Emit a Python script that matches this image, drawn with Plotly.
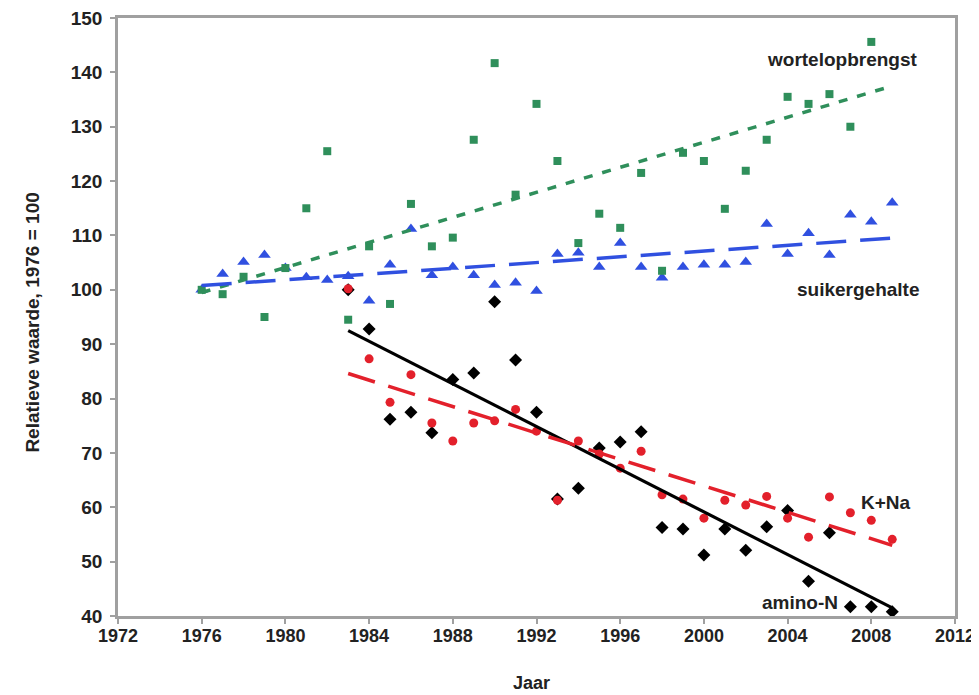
import plotly.graph_objects as go

# ---- data ----
years_wortel = list(range(1976, 2009))
wortelopbrengst = [100, 99.2, 102.4, 95, 104, 115, 125.5, 94.5, 108, 97.4, 115.8, 108, 109.6,
                   127.6, 141.7, 117.5, 134.2, 123.7, 108.6, 114, 111.4, 121.5, 103.5, 125.2,
                   123.7, 114.9, 121.9, 127.6, 135.5, 134.2, 136, 130, 145.6]

years_suiker = list(range(1976, 2010))
suikergehalte = [100, 102.9, 105.1, 106.4, 104, 102.3, 101.8, 102.5, 98, 104.6, 111.2, 102.7,
                 104.2, 102.7, 100.9, 101.3, 99.8, 106.6, 106.8, 104.2, 108.6, 104.2, 102.2,
                 104.2, 104.6, 104.6, 105.1, 112.1, 106.6, 110.4, 106.4, 113.8, 112.5, 116]

years_kna = list(range(1983, 2010))
k_na = [100.2, 87.3, 79.3, 84.4, 75.5, 72.2, 75.5, 75.9, 78, 74, 61.3, 72.2, 69.8, 67.2,
        70.3, 62.3, 61.5, 58, 61.3, 60.4, 62, 58, 54.5, 61.9, 59, 57.6, 54.1]

years_amino = list(range(1983, 2010))
amino_n = [100, 92.8, 76.2, 77.5, 73.7, 83.5, 84.7, 97.8, 87.1, 77.5, 61.5, 63.5, 70.9, 72,
           73.9, 56.3, 56, 51.2, 56, 52.1, 56.4, 59.4, 46.4, 55.3, 41.7, 41.7, 40.8]

# trend lines (end points)
trend_wortel_x = [1976, 2009]
trend_wortel_y = [99.5, 137.5]
trend_suiker_x = [1976, 2009]
trend_suiker_y = [100.8, 109.5]
trend_amino_x = [1983, 2009]
trend_amino_y = [92.5, 41.5]
trend_kna_x = [1983, 2009]
trend_kna_y = [84.6, 53.0]

x_ticks = [1972, 1976, 1980, 1984, 1988, 1992, 1996, 2000, 2004, 2008, 2012]
y_ticks = [40, 50, 60, 70, 80, 90, 100, 110, 120, 130, 140, 150]

GREEN = "#2f8f5b"
BLUE = "#3050e0"
RED = "#e3202b"
BLACK = "#000000"
AXIS = "#a0a0a0"
TXT = "#222222"
FONT = "Liberation Sans, Arial, sans-serif"

fig = go.Figure()

fig.add_trace(go.Scatter(x=years_suiker, y=suikergehalte, mode="markers", name="suikergehalte",
                         marker=dict(symbol="triangle-up", size=11, color=BLUE)))
fig.add_trace(go.Scatter(x=years_wortel, y=wortelopbrengst, mode="markers", name="wortelopbrengst",
                         marker=dict(symbol="square", size=8, color=GREEN)))
fig.add_trace(go.Scatter(x=years_amino, y=amino_n, mode="markers", name="amino-N",
                         marker=dict(symbol="diamond", size=10, color=BLACK)))
fig.add_trace(go.Scatter(x=years_kna, y=k_na, mode="markers", name="K+Na",
                         marker=dict(symbol="circle", size=9, color=RED)))

fig.add_trace(go.Scatter(x=trend_wortel_x, y=trend_wortel_y, mode="lines",
                         line=dict(color=GREEN, width=3.5, dash="9px,10px")))
fig.add_trace(go.Scatter(x=trend_suiker_x, y=trend_suiker_y, mode="lines",
                         line=dict(color=BLUE, width=3.5, dash="30px,14px")))
fig.add_trace(go.Scatter(x=trend_amino_x, y=trend_amino_y, mode="lines",
                         line=dict(color=BLACK, width=3.2)))
fig.add_trace(go.Scatter(x=trend_kna_x, y=trend_kna_y, mode="lines",
                         line=dict(color=RED, width=3.5, dash="28px,14px")))

labels = [
    ("wortelopbrengst", 2006.6, 142.3),
    ("suikergehalte", 2007.4, 100.0),
    ("K+Na", 2008.7, 60.8),
    ("amino-N", 2004.6, 42.4),
]
for txt, lx, ly in labels:
    fig.add_annotation(x=lx, y=ly, xref="x", yref="y", text="<b>" + txt + "</b>", showarrow=False,
                       font=dict(family=FONT, size=19, color=TXT), xanchor="center", yanchor="middle")

fig.add_annotation(x=-0.102, y=0.49, xref="paper", yref="paper", text="<b>Relatieve waarde, 1976 = 100</b>",
                   textangle=-90, showarrow=False, font=dict(family=FONT, size=19, color=TXT),
                   xanchor="center", yanchor="middle")
fig.add_annotation(x=0.494, y=-0.112, xref="paper", yref="paper", text="<b>Jaar</b>",
                   showarrow=False, font=dict(family=FONT, size=18, color=TXT),
                   xanchor="center", yanchor="middle")

fig.update_layout(
    width=971, height=687,
    margin=dict(l=110, r=24, t=10, b=79),
    paper_bgcolor="white", plot_bgcolor="white",
    showlegend=False,
    font=dict(family=FONT, color=TXT),
)
fig.update_xaxes(range=[1972, 2012], tickvals=x_ticks, ticktext=["<b>%d</b>" % v for v in x_ticks],
                 automargin=False, ticklabeloverflow="allow",
                 showgrid=False, zeroline=False, showline=True, mirror=True,
                 linecolor=AXIS, linewidth=2.5, ticks="outside", ticklen=5, tickcolor=AXIS,
                 tickwidth=1.5, tickfont=dict(family=FONT, size=18, color=TXT), ticklabelstandoff=-3)
fig.update_yaxes(range=[40, 150], tickvals=y_ticks, ticktext=["<b>%d</b>" % v for v in y_ticks],
                 automargin=False, ticklabeloverflow="allow",
                 showgrid=False, zeroline=False, showline=True, mirror=True,
                 linecolor=AXIS, linewidth=2.5, ticks="outside", ticklen=5, tickcolor=AXIS,
                 tickwidth=1.5, tickfont=dict(family=FONT, size=19, color=TXT), ticklabelstandoff=4)

fig.write_html("out.html")
